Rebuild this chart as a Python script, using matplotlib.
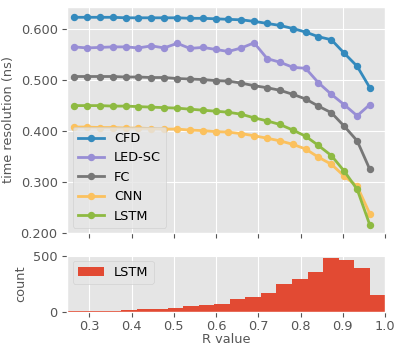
import matplotlib

matplotlib.use("Agg")
import matplotlib.pyplot as plt
import numpy as np

# R values where the time resolution was evaluated
r_values = [0.264, 0.294, 0.325, 0.355, 0.386, 0.416, 0.447, 0.477, 0.508, 0.538,
            0.569, 0.599, 0.629, 0.660, 0.690, 0.721, 0.751, 0.782, 0.812, 0.842,
            0.873, 0.903, 0.934, 0.964]

cfd = [0.623, 0.623, 0.623, 0.623, 0.622, 0.622, 0.622, 0.622, 0.622, 0.621,
       0.621, 0.620, 0.619, 0.618, 0.615, 0.611, 0.607, 0.601, 0.594, 0.585,
       0.579, 0.553, 0.527, 0.485]
led_sc = [0.565, 0.563, 0.564, 0.565, 0.565, 0.563, 0.567, 0.563, 0.572, 0.562,
          0.564, 0.560, 0.556, 0.563, 0.573, 0.542, 0.535, 0.525, 0.523, 0.495,
          0.472, 0.452, 0.430, 0.452]
fc = [0.507, 0.507, 0.507, 0.507, 0.506, 0.506, 0.505, 0.505, 0.503, 0.502,
      0.501, 0.499, 0.498, 0.494, 0.489, 0.485, 0.480, 0.472, 0.463, 0.449,
      0.436, 0.410, 0.381, 0.325]
cnn = [0.408, 0.408, 0.407, 0.407, 0.406, 0.406, 0.405, 0.404, 0.404, 0.402,
       0.401, 0.399, 0.398, 0.395, 0.391, 0.386, 0.381, 0.374, 0.365, 0.349,
       0.335, 0.312, 0.292, 0.238]
lstm = [0.450, 0.450, 0.450, 0.449, 0.449, 0.448, 0.447, 0.446, 0.445, 0.443,
        0.441, 0.439, 0.437, 0.433, 0.426, 0.420, 0.413, 0.402, 0.390, 0.372,
        0.352, 0.322, 0.286, 0.216]

series_names = ["CFD", "LED-SC", "FC", "CNN", "LSTM"]
series_values = [cfd, led_sc, fc, cnn, lstm]
series_colors = ["#348ABD", "#988ED5", "#777777", "#FBC15E", "#8EBA42"]

# LSTM histogram of R values (counts per bin)
hist_edges = np.linspace(0.229, 1.0, 22)
hist_counts = [6, 6, 6, 6, 12, 24, 24, 33, 51, 60, 69, 113, 131, 167, 250, 292,
               355, 481, 463, 391, 149]


def main():
    plt.style.use("ggplot")
    fs = 9.3
    plt.rcParams.update({
        "font.size": fs,
        "axes.labelsize": fs,
        "xtick.labelsize": fs,
        "ytick.labelsize": fs,
        "legend.fontsize": fs,
    })

    fig = plt.figure(figsize=(3.99, 3.46), dpi=100)
    ax1 = fig.add_axes([0.169, 0.326, 0.796, 0.655])
    ax2 = fig.add_axes([0.169, 0.099, 0.796, 0.163], sharex=ax1)

    for name, vals, c in zip(series_names, series_values, series_colors):
        ax1.plot(r_values, vals, "-o", color=c, label=name, lw=2, ms=4.3)

    ax1.set_ylim(0.2, 0.644)
    ax1.set_yticks([0.2, 0.3, 0.4, 0.5, 0.6])
    ax1.yaxis.set_major_formatter(plt.FormatStrFormatter("%.3f"))
    ax1.set_ylabel("time resolution (ns)")
    ax1.tick_params(labelbottom=False)
    ax1.legend(loc="lower left", borderaxespad=0.4)

    centers = 0.5 * (hist_edges[:-1] + hist_edges[1:])
    ax2.hist(centers, bins=hist_edges, weights=hist_counts, color="#E24A33",
             label="LSTM")
    ax2.set_xlim(0.248, 1.0)
    ax2.set_ylim(0, 504)
    ax2.set_yticks([0, 500])
    ax2.set_xticks(np.arange(0.3, 1.01, 0.1))
    ax2.tick_params(axis="x", pad=2.5)
    ax2.set_xlabel("R value", labelpad=0)
    ax2.set_ylabel("count")
    ax2.legend(loc="upper left", borderaxespad=0.4)

    fig.savefig("out.png", dpi=100)
    plt.close(fig)


if __name__ == "__main__":
    main()
